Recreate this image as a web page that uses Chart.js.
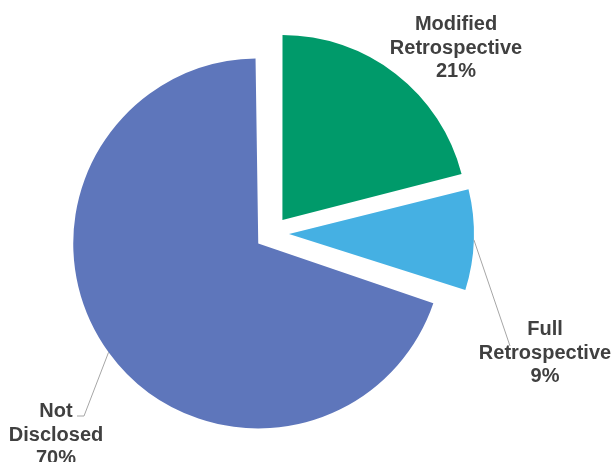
<!DOCTYPE html>
<html>
<head>
<meta charset="utf-8">
<script src="https://cdn.jsdelivr.net/npm/chart.js@4.4.1/dist/chart.umd.min.js"></script>
<style>
  html, body { margin: 0; padding: 0; background: #fff; }
  #wrap { width: 613px; height: 462px; }
</style>
</head>
<body>
<div id="wrap"><canvas id="pieChart"></canvas></div>
<script>
const categories = ["Modified Retrospective", "Full Retrospective", "Not Disclosed"];
const shares = [21, 9, 70];
const labelLines = [["Modified", "Retrospective"], ["Full", "Retrospective"], ["Not", "Disclosed"]];
const sliceColors = ["#009A6A", "#45B0E3", "#5E76BB"];

// label blocks: centre x, first baseline, and leader bend points (if any)
const labelSpots = [
  { x: 456, y: 30, leader: null },
  { x: 545, y: 335, leader: [[510, 346]] },
  { x: 56, y: 417, leader: [[84, 416], [77, 416]] }
];
const pieRadius = 185;
const explode = 17; // px every slice is pulled out from the centre

// chart.js grows the radius of wide exploded arcs; keep them all the same size
const holdRadius = {
  id: "holdRadius",
  afterDatasetUpdate(chart, args) {
    args.meta.data.forEach(arc => {
      const fix = 1 - Math.sin(Math.min(Math.PI, arc.circumference));
      arc.outerRadius = pieRadius - explode * fix;
    });
  }
};

const sliceLabels = {
  id: "sliceLabels",
  afterDatasetsDraw(chart) {
    const ctx = chart.ctx;
    const arcs = chart.getDatasetMeta(0).data;
    arcs.forEach((arc, i) => {
      const mid = (arc.startAngle + arc.endAngle) / 2;
      const spot = labelSpots[i];
      ctx.save();
      if (spot.leader) {
        const ex = arc.x + Math.cos(mid) * (explode + pieRadius);
        const ey = arc.y + Math.sin(mid) * (explode + pieRadius);
        ctx.beginPath();
        ctx.moveTo(ex, ey);
        spot.leader.forEach(p => ctx.lineTo(p[0], p[1]));
        ctx.strokeStyle = "#A6A6A6";
        ctx.lineWidth = 1;
        ctx.stroke();
      }
      ctx.fillStyle = "#404040";
      ctx.font = 'bold 20px "Liberation Sans", Arial, sans-serif';
      ctx.textAlign = "center";
      ctx.textBaseline = "alphabetic";
      const lines = labelLines[i].concat(shares[i] + "%");
      lines.forEach((t, k) => ctx.fillText(t, spot.x, spot.y + k * 23.5));
      ctx.restore();
    });
  }
};

new Chart(document.getElementById("pieChart"), {
  type: "pie",
  data: {
    labels: categories,
    datasets: [{
      data: shares,
      backgroundColor: sliceColors,
      borderWidth: 0,
      offset: explode * 4,
      hoverOffset: 0,
      radius: pieRadius
    }]
  },
  options: {
    responsive: true,
    maintainAspectRatio: false,
    animation: false,
    layout: { padding: { left: 0, right: 69, top: 5, bottom: 0 } },
    plugins: {
      legend: { display: false },
      tooltip: { enabled: false }
    }
  },
  plugins: [holdRadius, sliceLabels]
});
</script>
</body>
</html>
